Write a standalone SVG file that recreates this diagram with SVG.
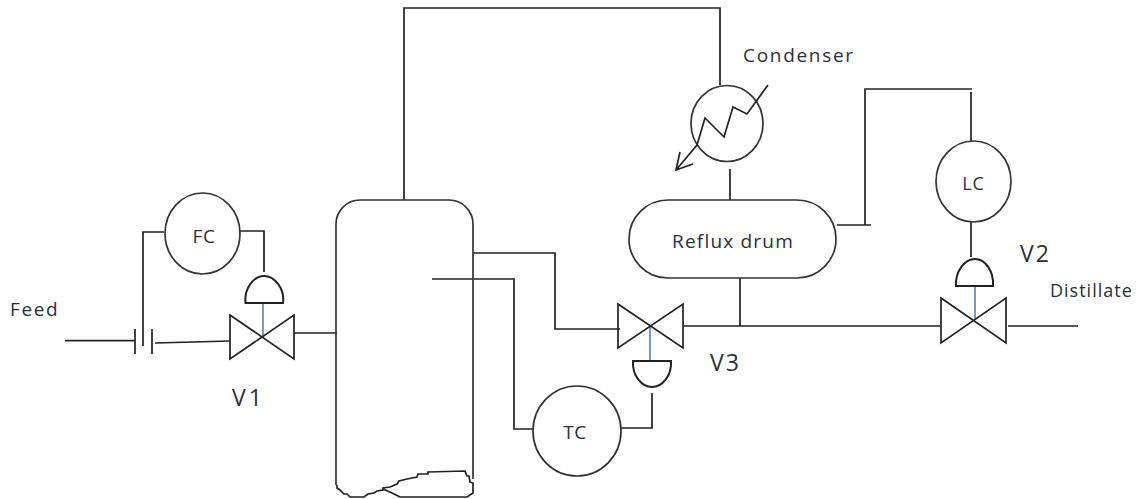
<svg xmlns="http://www.w3.org/2000/svg" width="1138" height="499" viewBox="0 0 1138 499">
<style>
.l{fill:none;stroke:#222;stroke-width:1.7;stroke-linejoin:miter}
.s{fill:#fff;stroke:#333;stroke-width:1.7}
.a{fill:#fff;stroke:#222;stroke-width:2}
.b{fill:none;stroke:#5b8ac4;stroke-width:1.7}
.t{font-family:"Open Sans","Noto Sans",sans-serif;fill:#2b2f38}
</style>
<rect width="1138" height="499" fill="#fff"/>
<g id="connectors">
<path class="l" d="M404 200V8H720V85"/>
<path class="l" d="M65 340.700H135M155 343L230 341"/>
<path class="l" d="M164 232H143V346"/>
<path class="l" d="M240 231H264V272"/>
<path class="l" d="M294 333H337"/>
<path class="l" d="M473 253H555V329H620"/>
<path class="l" d="M432 279H514V429H533"/>
<path class="l" d="M621 428H652V393"/>
<path class="l" d="M683 326H941"/>
<path class="l" d="M740 278V326"/>
<path class="l" d="M730 169V200"/>
<path class="l" d="M837 225H871M865 225V89H972M971 92V147"/>
<path class="l" d="M971 222V257"/>
<path class="l" d="M1008 326H1078"/>
</g>
<g id="column">
<path class="s" style="fill:none" d="M336 485V224A24 24 0 0 1 360 200H449A24 24 0 0 1 473 224V479"/>
<path class="l" d="M337 485V488L340 490L344 494L347 494L350 497H364L368 494L374 493L377 491L383 490V488L390 487L397 484L399 481L407 479L417 477L418 474L428 474V472L465 471L467 476L469 476L470 482L473 483V493L467 497H400L396 495L392 493L383 489"/>
</g>
<g id="orifice">
<path class="l" d="M135 329V354M152 329V354"/>
</g>
<g id="FC">
<ellipse class="s" cx="202.500" cy="233.500" rx="37.500" ry="40.500"/>
<text class="t" x="204" y="243" font-size="19" letter-spacing="0.500" text-anchor="middle">FC</text>
</g>
<g id="V1">
<path class="b" d="M263 303V336"/>
<path class="l" d="M230 315L294 359V315L230 359Z"/>
<path class="a" d="M245.500 303C244 288 254 276 264 276C274 276 285 288 283 303Z"/>
<text class="t" x="232" y="406" font-size="23" letter-spacing="3">V1</text>
</g>
<g id="V3">
<path class="b" d="M650 326V362"/>
<path class="l" d="M618 304L683 348V304L618 348Z"/>
<path class="a" d="M633 361C632 376 642 387 652 387C662 387 672 376 671 361Z"/>
<text class="t" x="710" y="371" font-size="23" letter-spacing="2">V3</text>
</g>
<g id="V2">
<path class="b" d="M975 286V320"/>
<path class="l" d="M941 298L1006 343V298L941 343Z"/>
<path class="a" d="M956 286C955 271 965 259 975 259C985 259 994 271 993 286Z"/>
<text class="t" x="1020" y="262" font-size="23" letter-spacing="2">V2</text>
</g>
<g id="TC">
<ellipse class="s" cx="577" cy="431" rx="44" ry="45"/>
<text class="t" x="575" y="439" font-size="19" letter-spacing="0.500" text-anchor="middle">TC</text>
</g>
<g id="LC">
<ellipse class="s" cx="973.500" cy="181.500" rx="37.500" ry="40.500"/>
<text class="t" x="973.500" y="190" font-size="18" letter-spacing="1" text-anchor="middle">LC</text>
</g>
<g id="condenser">
<ellipse class="s" cx="727" cy="123.500" rx="36" ry="38"/>
<path class="l" d="M768 85L747 114L733 107L724 137L705 118L697 145L676 170M680 152L676 170L693 164"/>
<text class="t" x="743" y="62" font-size="19" letter-spacing="1.700">Condenser</text>
</g>
<g id="drum">
<rect class="s" x="629" y="200" width="207" height="78" rx="39" ry="39"/>
<text class="t" x="672" y="248" font-size="19" letter-spacing="1.200">Reflux drum</text>
</g>
<g id="labels">
<text class="t" x="10" y="316" font-size="19" letter-spacing="1.600">Feed</text>
<text class="t" x="1050" y="297" font-size="18" letter-spacing="1">Distillate</text>
</g>
</svg>
